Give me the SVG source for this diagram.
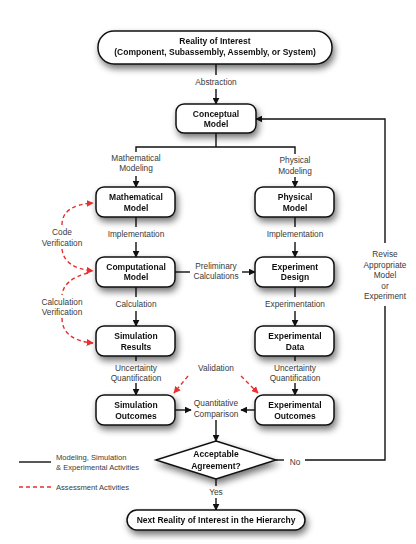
<svg xmlns="http://www.w3.org/2000/svg" width="416" height="544" viewBox="0 0 416 544">
<defs>
<filter id="sh" x="-20%" y="-30%" width="150%" height="180%">
<feGaussianBlur in="SourceAlpha" stdDeviation="3.5"/>
<feOffset dx="2" dy="4" result="b"/>
<feComponentTransfer><feFuncA type="linear" slope="0.55"/></feComponentTransfer>
<feMerge><feMergeNode/><feMergeNode in="SourceGraphic"/></feMerge>
</filter>
<marker id="ah" viewBox="0 0 10 10" refX="9" refY="5" markerWidth="7" markerHeight="7" markerUnits="userSpaceOnUse" orient="auto"><path d="M0,0 L10,5 L0,10 Z" fill="#111"/></marker>
<marker id="rh" viewBox="0 0 10 10" refX="9" refY="5" markerWidth="7" markerHeight="7" markerUnits="userSpaceOnUse" orient="auto"><path d="M0,0 L10,5 L0,10 Z" fill="#e8302f"/></marker>
</defs>
<style>
.box{fill:#fff;stroke:#111;stroke-width:1.5}
.bt{font-family:"Liberation Sans",Arial,sans-serif;font-size:8.5px;font-weight:bold;fill:#111;text-anchor:middle}
.lb{font-family:"Liberation Sans",Arial,sans-serif;font-size:8.3px;fill:#3a3a3a;text-anchor:middle}
.lg{font-family:"Liberation Sans",Arial,sans-serif;font-size:7.6px;fill:#3a3a3a}
.ln{fill:none;stroke:#111;stroke-width:1.4}
.rd{fill:none;stroke:#e8302f;stroke-width:1.4;stroke-dasharray:4 3}
</style>
<rect width="416" height="544" fill="#fff"/>
<g id="connectors">
<line class="ln" x1="216" y1="64" x2="216" y2="75"/>
<line class="ln" x1="216" y1="89" x2="216" y2="104" marker-end="url(#ah)"/>
<polyline class="ln" points="216,133 216,147"/>
<polyline class="ln" points="136,152 136,147 295,147 295,154"/>
<line class="ln" x1="136" y1="176" x2="136" y2="187" marker-end="url(#ah)"/>
<line class="ln" x1="295" y1="177" x2="295" y2="187" marker-end="url(#ah)"/>
<line class="ln" x1="136" y1="217" x2="136" y2="227"/>
<line class="ln" x1="136" y1="242" x2="136" y2="257" marker-end="url(#ah)"/>
<line class="ln" x1="295" y1="217" x2="295" y2="227"/>
<line class="ln" x1="295" y1="242" x2="295" y2="257" marker-end="url(#ah)"/>
<line class="ln" x1="175" y1="272" x2="190" y2="272"/>
<line class="ln" x1="242" y1="272" x2="255" y2="272" marker-end="url(#ah)"/>
<line class="ln" x1="136" y1="287" x2="136" y2="297"/>
<line class="ln" x1="136" y1="311" x2="136" y2="326" marker-end="url(#ah)"/>
<line class="ln" x1="295" y1="287" x2="295" y2="297"/>
<line class="ln" x1="295" y1="311" x2="295" y2="326" marker-end="url(#ah)"/>
<line class="ln" x1="136" y1="356" x2="136" y2="361"/>
<line class="ln" x1="136" y1="383" x2="136" y2="395" marker-end="url(#ah)"/>
<line class="ln" x1="295" y1="356" x2="295" y2="361"/>
<line class="ln" x1="295" y1="383" x2="295" y2="395" marker-end="url(#ah)"/>
<line class="ln" x1="175" y1="410" x2="191" y2="410" marker-end="url(#ah)"/>
<line class="ln" x1="255" y1="410" x2="241" y2="410" marker-end="url(#ah)"/>
<line class="ln" x1="216" y1="420" x2="216" y2="441" marker-end="url(#ah)"/>
<line class="ln" x1="276" y1="460" x2="284" y2="460"/>
<polyline class="ln" points="305,460 385,460 385,306"/>
<polyline class="ln" points="385,243 385,119 256,119" marker-end="url(#ah)"/>
<line class="ln" x1="216" y1="479" x2="216" y2="486"/>
<line class="ln" x1="216" y1="498" x2="216" y2="510" marker-end="url(#ah)"/>
<path class="rd" d="M62,225 Q62,205 93,203" marker-end="url(#rh)"/>
<path class="rd" d="M62,249 Q64,268 93,271" marker-end="url(#rh)"/>
<path class="rd" d="M88,273 Q64,279 62,295"/>
<path class="rd" d="M62,318 Q62,340 93,343" marker-end="url(#rh)"/>
<line class="rd" x1="188" y1="376" x2="174" y2="393" marker-end="url(#rh)"/>
<line class="rd" x1="241" y1="376" x2="258" y2="393" marker-end="url(#rh)"/>
</g>
<g id="labels">
<text class="lb" x="216" y="85">Abstraction</text>
<text class="lb" x="136" y="161">Mathematical</text>
<text class="lb" x="136" y="171">Modeling</text>
<text class="lb" x="295" y="163">Physical</text>
<text class="lb" x="295" y="174">Modeling</text>
<text class="lb" x="136" y="237">Implementation</text>
<text class="lb" x="295" y="237">Implementation</text>
<text class="lb" x="216" y="269">Preliminary</text>
<text class="lb" x="216" y="279">Calculations</text>
<text class="lb" x="136" y="307">Calculation</text>
<text class="lb" x="295" y="307">Experimentation</text>
<text class="lb" x="136" y="371">Uncertainty</text>
<text class="lb" x="136" y="381">Quantification</text>
<text class="lb" x="295" y="371">Uncertainty</text>
<text class="lb" x="295" y="381">Quantification</text>
<text class="lb" x="216" y="371">Validation</text>
<text class="lb" x="216" y="406">Quantitative</text>
<text class="lb" x="216" y="417">Comparison</text>
<text class="lb" x="62" y="235">Code</text>
<text class="lb" x="62" y="246">Verification</text>
<text class="lb" x="62" y="305">Calculation</text>
<text class="lb" x="62" y="315">Verification</text>
<text class="lb" x="385" y="257">Revise</text>
<text class="lb" x="385" y="268">Appropriate</text>
<text class="lb" x="385" y="278">Model</text>
<text class="lb" x="385" y="289">or</text>
<text class="lb" x="385" y="299">Experiment</text>
<text class="lb" x="295" y="465">No</text>
<text class="lb" x="216" y="495">Yes</text>
</g>
<g id="n-reality" filter="url(#sh)"><rect class="box" x="98" y="31" width="234" height="33" rx="16"/><text class="bt" x="215" y="44">Reality of Interest</text><text class="bt" x="215" y="55">(Component, Subassembly, Assembly, or System)</text></g>
<g id="n-conceptual" filter="url(#sh)"><rect class="box" x="176" y="104" width="80" height="29" rx="8"/><text class="bt" x="216" y="117">Conceptual</text><text class="bt" x="216" y="127">Model</text></g>
<g id="n-math" filter="url(#sh)"><rect class="box" x="96" y="187" width="79" height="30" rx="8"/><text class="bt" x="136" y="200">Mathematical</text><text class="bt" x="136" y="211">Model</text></g>
<g id="n-phys" filter="url(#sh)"><rect class="box" x="255" y="187" width="79" height="30" rx="8"/><text class="bt" x="295" y="200">Physical</text><text class="bt" x="295" y="211">Model</text></g>
<g id="n-comp" filter="url(#sh)"><rect class="box" x="96" y="257" width="79" height="30" rx="8"/><text class="bt" x="136" y="270">Computational</text><text class="bt" x="136" y="280">Model</text></g>
<g id="n-expdesign" filter="url(#sh)"><rect class="box" x="255" y="257" width="79" height="30" rx="8"/><text class="bt" x="295" y="270">Experiment</text><text class="bt" x="295" y="280">Design</text></g>
<g id="n-simres" filter="url(#sh)"><rect class="box" x="96" y="326" width="79" height="30" rx="8"/><text class="bt" x="136" y="339">Simulation</text><text class="bt" x="136" y="350">Results</text></g>
<g id="n-expdata" filter="url(#sh)"><rect class="box" x="255" y="326" width="79" height="30" rx="8"/><text class="bt" x="295" y="339">Experimental</text><text class="bt" x="295" y="350">Data</text></g>
<g id="n-simout" filter="url(#sh)"><rect class="box" x="96" y="395" width="79" height="30" rx="8"/><text class="bt" x="136" y="408">Simulation</text><text class="bt" x="136" y="419">Outcomes</text></g>
<g id="n-expout" filter="url(#sh)"><rect class="box" x="255" y="395" width="79" height="30" rx="8"/><text class="bt" x="295" y="408">Experimental</text><text class="bt" x="295" y="419">Outcomes</text></g>
<g id="n-decision" filter="url(#sh)"><polygon class="box" points="216,441 276,460 216,479 156,460"/><text class="bt" x="216" y="457">Acceptable</text><text class="bt" x="216" y="469">Agreement?</text></g>
<g id="n-next" filter="url(#sh)"><rect class="box" x="127" y="510" width="178" height="20" rx="10"/><text class="bt" x="216" y="523">Next Reality of Interest in the Hierarchy</text></g>
<g id="legend">
<line class="ln" x1="19" y1="462" x2="51" y2="462"/>
<text class="lg" x="56" y="460">Modeling, Simulation</text>
<text class="lg" x="56" y="470">&amp; Experimental Activities</text>
<line class="rd" x1="19" y1="487" x2="51" y2="487"/>
<text class="lg" x="56" y="490">Assessment Activities</text>
</g>
</svg>
